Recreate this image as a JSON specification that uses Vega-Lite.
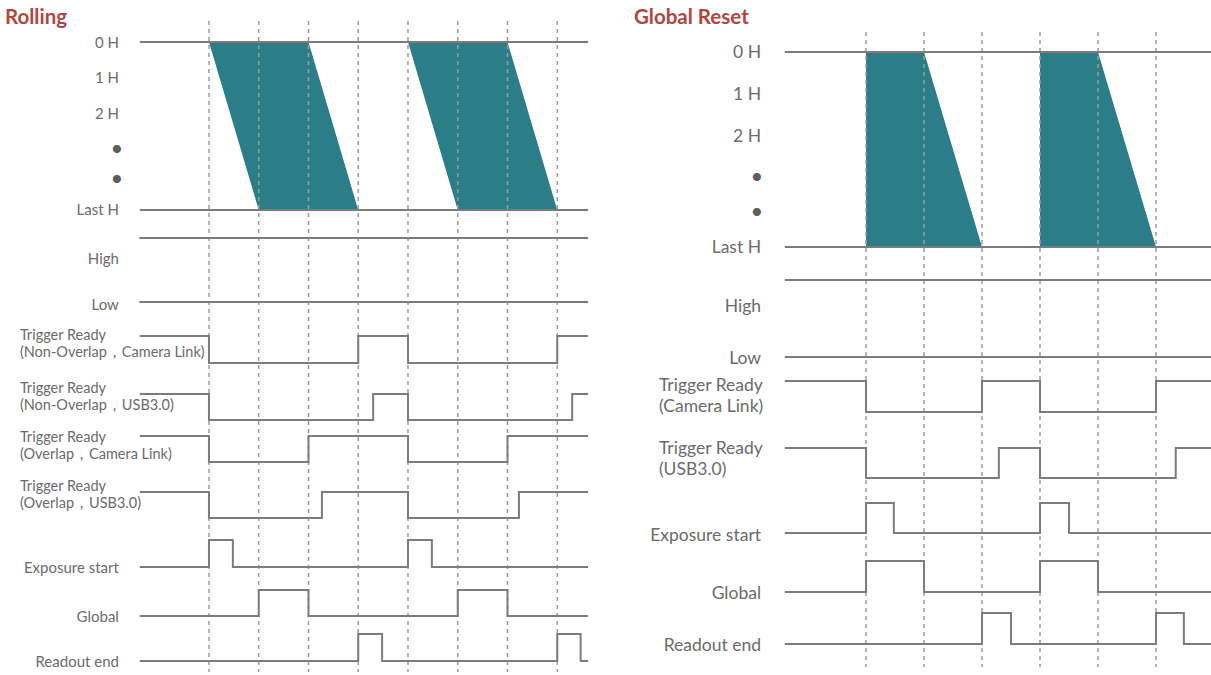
{
  "$schema": "https://vega.github.io/schema/vega-lite/v6.json",
  "padding": 0,
  "spacing": 0,
  "background": "white",
  "config": {"view": {"stroke": null}, "text": {"font": "Lato", "color": "#6b6b6b"}},
  "resolve": {"scale": {"x": "independent", "y": "independent"}},
  "datasets": {
    "rl_fill": [
      {"shape": "frame 1", "y": 42, "t": 0, "t2": 2},
      {"shape": "frame 1", "y": 210, "t": 1, "t2": 3},
      {"shape": "frame 2", "y": 42, "t": 4, "t2": 6},
      {"shape": "frame 2", "y": 210, "t": 5, "t2": 7}
    ],
    "rl_grid": [{"t": 0}, {"t": 1}, {"t": 2}, {"t": 3}, {"t": 4}, {"t": 5}, {"t": 6}, {"t": 7}],
    "rl_rows": [
      {"row": "0 H", "y": 42, "t": -1.39, "t2": 7.62},
      {"row": "Last H", "y": 210, "t": -1.39, "t2": 7.62},
      {"row": "High", "y": 238, "t": -1.4, "t2": 7.62},
      {"row": "Low", "y": 302, "t": -1.4, "t2": 7.62}
    ],
    "rl_sig": [
      {"sig": "TR NO CL", "t": -1.39, "y": 336}, {"sig": "TR NO CL", "t": 0, "y": 363}, {"sig": "TR NO CL", "t": 3, "y": 336}, {"sig": "TR NO CL", "t": 4, "y": 363}, {"sig": "TR NO CL", "t": 7, "y": 336}, {"sig": "TR NO CL", "t": 7.62, "y": 336},
      {"sig": "TR NO USB", "t": -1.39, "y": 394}, {"sig": "TR NO USB", "t": 0, "y": 420}, {"sig": "TR NO USB", "t": 3.3, "y": 394}, {"sig": "TR NO USB", "t": 4, "y": 420}, {"sig": "TR NO USB", "t": 7.3, "y": 394}, {"sig": "TR NO USB", "t": 7.62, "y": 394},
      {"sig": "TR O CL", "t": -1.39, "y": 436}, {"sig": "TR O CL", "t": 0, "y": 462}, {"sig": "TR O CL", "t": 2, "y": 436}, {"sig": "TR O CL", "t": 4, "y": 462}, {"sig": "TR O CL", "t": 6, "y": 436}, {"sig": "TR O CL", "t": 7.62, "y": 436},
      {"sig": "TR O USB", "t": -1.39, "y": 492}, {"sig": "TR O USB", "t": 0, "y": 518}, {"sig": "TR O USB", "t": 2.27, "y": 492}, {"sig": "TR O USB", "t": 4, "y": 518}, {"sig": "TR O USB", "t": 6.23, "y": 492}, {"sig": "TR O USB", "t": 7.62, "y": 492},
      {"sig": "Exposure start", "t": -1.39, "y": 567}, {"sig": "Exposure start", "t": 0, "y": 540}, {"sig": "Exposure start", "t": 0.48, "y": 567}, {"sig": "Exposure start", "t": 4, "y": 540}, {"sig": "Exposure start", "t": 4.48, "y": 567}, {"sig": "Exposure start", "t": 7.62, "y": 567},
      {"sig": "Global", "t": -1.39, "y": 616}, {"sig": "Global", "t": 1, "y": 590}, {"sig": "Global", "t": 2, "y": 616}, {"sig": "Global", "t": 5, "y": 590}, {"sig": "Global", "t": 6, "y": 616}, {"sig": "Global", "t": 7.62, "y": 616},
      {"sig": "Readout end", "t": -1.39, "y": 661}, {"sig": "Readout end", "t": 3, "y": 634}, {"sig": "Readout end", "t": 3.48, "y": 661}, {"sig": "Readout end", "t": 7, "y": 634}, {"sig": "Readout end", "t": 7.47, "y": 661}, {"sig": "Readout end", "t": 7.62, "y": 661}
    ],
    "rl_lab": [
      {"label": "0 H", "y": 43}, {"label": "1 H", "y": 78}, {"label": "2 H", "y": 114},
      {"label": "Last H", "y": 210},
      {"label": "High", "y": 259}, {"label": "Low", "y": 305},
      {"label": "Exposure start", "y": 568}, {"label": "Global", "y": 617}, {"label": "Readout end", "y": 662}
    ],
    "rl_dots": [{"label": "•", "y": 149}, {"label": "•", "y": 179}],
    "rl_lab2": [
      {"label": "Trigger Ready\n(Non-Overlap，Camera Link)", "y": 335.5},
      {"label": "Trigger Ready\n(Non-Overlap，USB3.0)", "y": 389},
      {"label": "Trigger Ready\n(Overlap，Camera Link)", "y": 437.5},
      {"label": "Trigger Ready\n(Overlap，USB3.0)", "y": 487}
    ],
    "gr_fill": [
      {"shape": "frame 1", "y": 52, "t": 0, "t2": 1},
      {"shape": "frame 1", "y": 247, "t": 0, "t2": 2},
      {"shape": "frame 2", "y": 52, "t": 3, "t2": 4},
      {"shape": "frame 2", "y": 247, "t": 3, "t2": 5}
    ],
    "gr_grid": [{"t": 0}, {"t": 1}, {"t": 2}, {"t": 3}, {"t": 4}, {"t": 5}],
    "gr_rows": [
      {"row": "0 H", "y": 52, "t": -1.4, "t2": 5.95},
      {"row": "Last H", "y": 247, "t": -1.4, "t2": 5.95},
      {"row": "High", "y": 280, "t": -1.4, "t2": 5.95},
      {"row": "Low", "y": 357, "t": -1.4, "t2": 5.95}
    ],
    "gr_sig": [
      {"sig": "TR CL", "t": -1.4, "y": 381}, {"sig": "TR CL", "t": 0, "y": 412}, {"sig": "TR CL", "t": 2, "y": 381}, {"sig": "TR CL", "t": 3, "y": 412}, {"sig": "TR CL", "t": 5, "y": 381}, {"sig": "TR CL", "t": 5.95, "y": 381},
      {"sig": "TR USB", "t": -1.4, "y": 448}, {"sig": "TR USB", "t": 0, "y": 478}, {"sig": "TR USB", "t": 2.29, "y": 448}, {"sig": "TR USB", "t": 3, "y": 478}, {"sig": "TR USB", "t": 5.34, "y": 448}, {"sig": "TR USB", "t": 5.95, "y": 448},
      {"sig": "Exposure start", "t": -1.4, "y": 533}, {"sig": "Exposure start", "t": 0, "y": 503}, {"sig": "Exposure start", "t": 0.48, "y": 533}, {"sig": "Exposure start", "t": 3, "y": 503}, {"sig": "Exposure start", "t": 3.5, "y": 533}, {"sig": "Exposure start", "t": 5.95, "y": 533},
      {"sig": "Global", "t": -1.4, "y": 592}, {"sig": "Global", "t": 0, "y": 561}, {"sig": "Global", "t": 1, "y": 592}, {"sig": "Global", "t": 3, "y": 561}, {"sig": "Global", "t": 4, "y": 592}, {"sig": "Global", "t": 5.95, "y": 592},
      {"sig": "Readout end", "t": -1.4, "y": 644}, {"sig": "Readout end", "t": 2, "y": 613}, {"sig": "Readout end", "t": 2.5, "y": 644}, {"sig": "Readout end", "t": 5, "y": 613}, {"sig": "Readout end", "t": 5.48, "y": 644}, {"sig": "Readout end", "t": 5.95, "y": 644}
    ],
    "gr_lab": [
      {"label": "0 H", "y": 53}, {"label": "1 H", "y": 95}, {"label": "2 H", "y": 137},
      {"label": "Last H", "y": 248},
      {"label": "High", "y": 307}, {"label": "Low", "y": 359},
      {"label": "Exposure start", "y": 536}, {"label": "Global", "y": 594}, {"label": "Readout end", "y": 646}
    ],
    "gr_dots": [{"label": "•", "y": 177}, {"label": "•", "y": 212}],
    "gr_lab2": [
      {"label": "Trigger Ready\n(Camera Link)", "y": 385.5},
      {"label": "Trigger Ready\n(USB3.0)", "y": 449}
    ]
  },
  "hconcat": [
    {
      "width": 610,
      "height": 675,
      "layer": [
        {
          "data": {"name": "rl_fill"},
          "mark": {"type": "area", "orient": "horizontal", "color": "#2b7d88", "opacity": 1},
          "encoding": {
            "x": {"field": "t", "type": "quantitative", "scale": {"domain": [-4.2, 8.06], "nice": false, "zero": false}, "axis": null},
            "x2": {"field": "t2"},
            "y": {"field": "y", "type": "quantitative", "scale": {"domain": [0, 675], "reverse": true, "nice": false, "zero": false}, "axis": null},
            "detail": {"field": "shape"}
          }
        },
        {
          "data": {"name": "rl_grid"},
          "mark": {"type": "rule", "color": "#9c9c9c", "strokeWidth": 1.5, "strokeDash": [4, 4]},
          "encoding": {
            "x": {"field": "t", "type": "quantitative", "axis": null},
            "y": {"datum": 21, "type": "quantitative", "axis": null},
            "y2": {"datum": 672}
          }
        },
        {
          "data": {"name": "rl_rows"},
          "mark": {"type": "rule", "color": "#7c7c7c", "strokeWidth": 2},
          "encoding": {
            "x": {"field": "t", "type": "quantitative", "axis": null},
            "x2": {"field": "t2"},
            "y": {"field": "y", "type": "quantitative", "axis": null}
          }
        },
        {
          "data": {"name": "rl_sig"},
          "mark": {"type": "line", "interpolate": "step-after", "color": "#7c7c7c", "strokeWidth": 2},
          "encoding": {
            "x": {"field": "t", "type": "quantitative", "axis": null},
            "y": {"field": "y", "type": "quantitative", "axis": null},
            "detail": {"field": "sig"}
          }
        },
        {
          "data": {"name": "rl_lab"},
          "mark": {"type": "text", "align": "right", "baseline": "middle", "fontSize": 15},
          "encoding": {
            "x": {"datum": -1.81, "type": "quantitative", "axis": null},
            "y": {"field": "y", "type": "quantitative", "axis": null},
            "text": {"field": "label"}
          }
        },
        {
          "data": {"name": "rl_dots"},
          "mark": {"type": "text", "align": "center", "baseline": "middle", "fontSize": 22, "color": "#5e5e5e"},
          "encoding": {
            "x": {"datum": -1.85, "type": "quantitative", "axis": null},
            "y": {"field": "y", "type": "quantitative", "axis": null},
            "text": {"field": "label"}
          }
        },
        {
          "data": {"name": "rl_lab2"},
          "mark": {"type": "text", "align": "left", "baseline": "middle", "fontSize": 14.5, "lineBreak": "\n", "lineHeight": 17},
          "encoding": {
            "x": {"datum": -3.8, "type": "quantitative", "axis": null},
            "y": {"field": "y", "type": "quantitative", "axis": null},
            "text": {"field": "label"}
          }
        },
        {
          "data": {"values": [{"title": "Rolling"}]},
          "mark": {"type": "text", "align": "left", "baseline": "middle", "fontSize": 20.5, "fontWeight": "bold", "color": "#b3453d", "font": "Lato"},
          "encoding": {
            "x": {"datum": -4.1, "type": "quantitative", "axis": null},
            "y": {"datum": 18, "type": "quantitative", "axis": null},
            "text": {"field": "title"}
          }
        }
      ]
    },
    {
      "width": 601,
      "height": 675,
      "layer": [
        {
          "data": {"name": "gr_fill"},
          "mark": {"type": "area", "orient": "horizontal", "color": "#2b7d88", "opacity": 1},
          "encoding": {
            "x": {"field": "t", "type": "quantitative", "scale": {"domain": [-4.414, 5.948], "nice": false, "zero": false}, "axis": null},
            "x2": {"field": "t2"},
            "y": {"field": "y", "type": "quantitative", "scale": {"domain": [0, 675], "reverse": true, "nice": false, "zero": false}, "axis": null},
            "detail": {"field": "shape"}
          }
        },
        {
          "data": {"name": "gr_grid"},
          "mark": {"type": "rule", "color": "#9c9c9c", "strokeWidth": 1.5, "strokeDash": [4, 4]},
          "encoding": {
            "x": {"field": "t", "type": "quantitative", "axis": null},
            "y": {"datum": 32, "type": "quantitative", "axis": null},
            "y2": {"datum": 667}
          }
        },
        {
          "data": {"name": "gr_rows"},
          "mark": {"type": "rule", "color": "#7c7c7c", "strokeWidth": 2},
          "encoding": {
            "x": {"field": "t", "type": "quantitative", "axis": null},
            "x2": {"field": "t2"},
            "y": {"field": "y", "type": "quantitative", "axis": null}
          }
        },
        {
          "data": {"name": "gr_sig"},
          "mark": {"type": "line", "interpolate": "step-after", "color": "#7c7c7c", "strokeWidth": 2},
          "encoding": {
            "x": {"field": "t", "type": "quantitative", "axis": null},
            "y": {"field": "y", "type": "quantitative", "axis": null},
            "detail": {"field": "sig"}
          }
        },
        {
          "data": {"name": "gr_lab"},
          "mark": {"type": "text", "align": "right", "baseline": "middle", "fontSize": 17.5},
          "encoding": {
            "x": {"datum": -1.81, "type": "quantitative", "axis": null},
            "y": {"field": "y", "type": "quantitative", "axis": null},
            "text": {"field": "label"}
          }
        },
        {
          "data": {"name": "gr_dots"},
          "mark": {"type": "text", "align": "center", "baseline": "middle", "fontSize": 22, "color": "#5e5e5e"},
          "encoding": {
            "x": {"datum": -1.88, "type": "quantitative", "axis": null},
            "y": {"field": "y", "type": "quantitative", "axis": null},
            "text": {"field": "label"}
          }
        },
        {
          "data": {"name": "gr_lab2"},
          "mark": {"type": "text", "align": "left", "baseline": "middle", "fontSize": 17.5, "lineBreak": "\n", "lineHeight": 21},
          "encoding": {
            "x": {"datum": -3.57, "type": "quantitative", "axis": null},
            "y": {"field": "y", "type": "quantitative", "axis": null},
            "text": {"field": "label"}
          }
        },
        {
          "data": {"values": [{"title": "Global Reset"}]},
          "mark": {"type": "text", "align": "left", "baseline": "middle", "fontSize": 20.5, "fontWeight": "bold", "color": "#b3453d", "font": "Lato"},
          "encoding": {
            "x": {"datum": -4.0, "type": "quantitative", "axis": null},
            "y": {"datum": 18, "type": "quantitative", "axis": null},
            "text": {"field": "title"}
          }
        }
      ]
    }
  ]
}
